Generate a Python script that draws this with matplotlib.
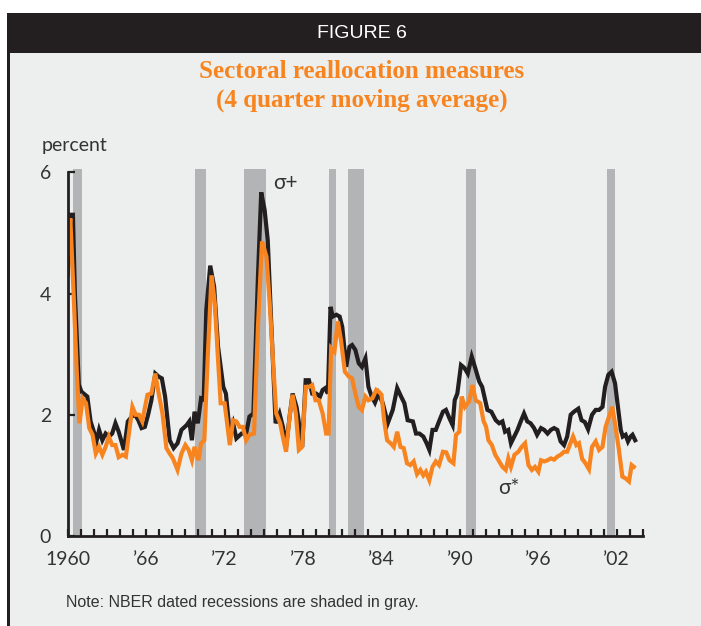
import matplotlib
matplotlib.use("Agg")
import matplotlib.pyplot as plt

# sigma+ (black) : year, percent
plus_years = [1960.0, 1960.2, 1960.4, 1960.55, 1960.85, 1961.05, 1961.5, 1961.75, 1962.0, 1962.2,
              1962.4, 1962.65, 1962.9, 1963.15, 1963.4, 1963.65, 1963.9, 1964.3, 1964.6, 1964.9,
              1965.15, 1965.4, 1965.65, 1965.9, 1966.15, 1966.4, 1966.7, 1966.95, 1967.2, 1967.45,
              1967.8, 1968.1, 1968.4, 1968.7, 1969.1, 1969.3, 1969.5, 1969.7, 1969.95, 1970.2,
              1970.4, 1970.6, 1970.9, 1971.2, 1971.5, 1971.9, 1972.1, 1972.4, 1972.65, 1972.9,
              1973.3, 1973.65, 1973.9, 1974.2, 1974.55, 1974.8, 1975.06, 1975.3, 1975.55, 1975.9,
              1976.2, 1976.46, 1976.7, 1977.0, 1977.2, 1977.5, 1977.73, 1977.93, 1978.2, 1978.45,
              1978.7, 1979.0, 1979.3, 1979.5, 1979.7, 1979.9, 1980.1, 1980.27, 1980.55, 1980.8,
              1981.0, 1981.3, 1981.55, 1981.75, 1982.0, 1982.26, 1982.5, 1982.77, 1983.0, 1983.25,
              1983.5, 1983.76, 1984.1, 1984.48, 1984.86, 1985.2, 1985.5, 1985.75, 1986.0, 1986.4,
              1986.64, 1986.9, 1987.2, 1987.45, 1987.66, 1987.9, 1988.15, 1988.4, 1988.7, 1988.93,
              1989.2, 1989.44, 1989.6, 1989.8, 1990.08, 1990.35, 1990.6, 1990.9, 1991.17, 1991.47,
              1991.7, 1992.1, 1992.4, 1992.74, 1993.0, 1993.25, 1993.45, 1993.7, 1993.9, 1994.15,
              1994.4, 1994.65, 1994.9, 1995.15, 1995.4, 1995.67, 1995.9, 1996.2, 1996.45, 1996.7,
              1996.95, 1997.2, 1997.45, 1997.7, 1997.96, 1998.2, 1998.47, 1998.72, 1999.05, 1999.3,
              1999.55, 1999.8, 2000.1, 2000.38, 2000.64, 2000.9, 2001.1, 2001.35, 2001.6, 2001.86,
              2002.05, 2002.3, 2002.45, 2002.67, 2002.85, 2003.05, 2003.2, 2003.4]
plus_vals = [4.3, 5.3, 5.3, 4.0, 2.5, 2.38, 2.3, 1.89, 1.72, 1.56,
             1.75, 1.58, 1.69, 1.64, 1.69, 1.86, 1.72, 1.42, 1.89, 1.97,
             2.0, 1.91, 1.78, 1.8, 2.0, 2.24, 2.68, 2.63, 2.6, 2.3,
             1.58, 1.45, 1.53, 1.75, 1.83, 1.89, 1.58, 2.05, 1.86, 2.27,
             2.25, 3.73, 4.46, 4.11, 3.12, 2.46, 2.35, 1.69, 1.86, 1.61,
             1.69, 1.69, 1.97, 2.02, 4.28, 5.67, 5.38, 4.88, 3.6, 1.86,
             2.02, 1.8, 1.47, 2.02, 2.35, 2.13, 1.8, 1.47, 2.57, 2.57,
             2.35, 2.35, 2.3, 2.41, 2.44, 2.35, 3.78, 3.62, 3.65, 3.62,
             3.45, 2.79, 3.12, 3.15, 3.07, 2.85, 2.79, 2.93, 2.46, 2.3,
             2.2, 2.35, 2.19, 1.86, 2.08, 2.44, 2.3, 2.19, 1.91, 1.89,
             1.69, 1.69, 1.64, 1.53, 1.42, 1.75, 1.75, 1.89, 2.05, 2.08,
             1.94, 1.83, 2.24, 2.35, 2.82, 2.77, 2.68, 2.96, 2.77, 2.55,
             2.46, 2.08, 2.05, 1.91, 1.86, 1.89, 1.72, 1.75, 1.53, 1.64,
             1.75, 1.89, 2.02, 1.89, 1.86, 1.78, 1.67, 1.78, 1.75, 1.69,
             1.75, 1.78, 1.75, 1.56, 1.5, 1.64, 2.0, 2.05, 2.1, 1.91,
             1.88, 1.76, 2.0, 2.08, 2.08, 2.13, 2.46, 2.66, 2.71, 2.52,
             2.19, 1.75, 1.64, 1.67, 1.56, 1.64, 1.67, 1.58]

# sigma* (orange)
star_years = [1960.0, 1960.2, 1960.45, 1960.7, 1960.9, 1961.15, 1961.4, 1961.65, 1961.9, 1962.15,
              1962.4, 1962.65, 1962.9, 1963.15, 1963.4, 1963.65, 1963.9, 1964.2, 1964.45, 1964.7,
              1964.95, 1965.2, 1965.45, 1965.7, 1966.1, 1966.4, 1966.7, 1966.95, 1967.25, 1967.55,
              1967.8, 1968.05, 1968.4, 1968.7, 1969.0, 1969.25, 1969.5, 1969.7, 1970.0, 1970.2,
              1970.45, 1970.7, 1971.0, 1971.25, 1971.5, 1971.7, 1972.0, 1972.4, 1972.65, 1972.9,
              1973.15, 1973.4, 1973.65, 1973.9, 1974.25, 1974.55, 1974.86, 1975.2, 1975.45, 1975.7,
              1975.95, 1976.25, 1976.45, 1976.7, 1977.0, 1977.2, 1977.45, 1977.68, 1977.93, 1978.2,
              1978.45, 1978.7, 1978.95, 1979.2, 1979.5, 1979.77, 1979.95, 1980.15, 1980.4, 1980.66,
              1980.9, 1981.2, 1981.5, 1981.75, 1982.0, 1982.26, 1982.5, 1982.77, 1983.0, 1983.3,
              1983.6, 1983.8, 1984.0, 1984.2, 1984.43, 1984.7, 1984.94, 1985.2, 1985.45, 1985.7,
              1985.95, 1986.2, 1986.46, 1986.72, 1986.97, 1987.2, 1987.4, 1987.66, 1987.9, 1988.15,
              1988.4, 1988.7, 1988.95, 1989.2, 1989.5, 1989.7, 1989.95, 1990.13, 1990.38, 1990.7,
              1990.96, 1991.2, 1991.55, 1991.8, 1992.0, 1992.18, 1992.44, 1992.7, 1992.95, 1993.25,
              1993.5, 1993.7, 1993.9, 1994.17, 1994.47, 1994.72, 1994.98, 1995.24, 1995.5, 1995.74,
              1996.0, 1996.2, 1996.45, 1996.7, 1996.95, 1997.2, 1997.45, 1997.7, 1997.96, 1998.2,
              1998.4, 1998.65, 1998.9, 1999.1, 1999.35, 1999.6, 1999.87, 2000.1, 2000.38, 2000.64,
              2000.9, 2001.14, 2001.4, 2001.65, 2001.9, 2002.16, 2002.42, 2002.67, 2002.93, 2003.13,
              2003.3]
star_vals = [4.66, 5.24, 4.0, 2.68, 1.86, 2.27, 2.19, 1.78, 1.67, 1.36,
             1.47, 1.34, 1.47, 1.64, 1.5, 1.5, 1.3, 1.34, 1.31, 1.72,
             2.13, 2.0, 2.0, 1.89, 2.33, 2.35, 2.68, 2.36, 2.02, 1.45,
             1.36, 1.28, 1.09, 1.36, 1.5, 1.42, 1.25, 1.47, 1.25, 1.53,
             1.58, 2.9, 4.3, 3.84, 2.9, 2.19, 2.19, 1.5, 1.91, 1.89,
             1.8, 1.8, 1.58, 1.67, 1.69, 3.45, 4.86, 4.61, 3.84, 2.9,
             2.02, 1.86, 1.64, 1.39, 2.02, 2.33, 2.02, 1.42, 1.47, 2.46,
             2.46, 2.49, 2.24, 2.24, 2.02, 1.69, 1.69, 3.1, 3.04, 3.54,
             3.23, 2.71, 2.63, 2.6, 2.35, 2.13, 2.08, 2.3, 2.24, 2.27,
             2.41, 2.38, 2.33, 1.91, 1.58, 1.53, 1.47, 1.72, 1.47, 1.45,
             1.2, 1.17, 1.23, 1.02, 1.09, 1.0, 1.06, 0.92, 1.14, 1.23,
             1.17, 1.39, 1.38, 1.25, 1.2, 1.67, 1.72, 2.3, 2.13, 2.22,
             2.49, 2.24, 2.19, 1.9, 1.8, 1.58, 1.5, 1.34, 1.25, 1.14,
             1.09, 1.28, 1.14, 1.34, 1.39, 1.47, 1.53, 1.17, 1.09, 1.14,
             1.06, 1.25, 1.23, 1.25, 1.28, 1.26, 1.31, 1.34, 1.39, 1.39,
             1.5, 1.64, 1.5, 1.53, 1.27, 1.2, 1.1, 1.47, 1.56, 1.42,
             1.47, 1.8, 1.97, 2.13, 1.8, 1.42, 0.98, 0.95, 0.9, 1.17,
             1.14]

# NBER recessions (start, end)
recessions = [(1960.4, 1961.1), (1969.7, 1970.6), (1973.5, 1975.15), (1979.95, 1980.5),
              (1981.45, 1982.65), (1990.45, 1991.2), (2001.25, 2001.85)]

label_years = [1960, 1966, 1972, 1978, 1984, 1990, 1996, 2002]
label_text = ["1960", "\u201966", "\u201972", "\u201978", "\u201984", "\u201990", "\u201996", "\u201902"]

BG = "#edefee"
DARK = "#231f20"
ORANGE = "#f7841f"
GRAY = "#b3b4b6"
sans = ["Lato", "DejaVu Sans"]
narrow = ["Liberation Sans Narrow", "Liberation Sans", "DejaVu Sans"]

fig = plt.figure(figsize=(7.01, 6.26), dpi=100, facecolor="white")

# panel background, header bar and left rule
fig.patches.append(plt.Rectangle((9 / 701, 0), 1, 1 - 53 / 626, transform=fig.transFigure,
                                 facecolor=BG, edgecolor="none", zorder=-10))
fig.patches.append(plt.Rectangle((7 / 701, 1 - 53 / 626), 1, 40 / 626, transform=fig.transFigure,
                                 facecolor=DARK, edgecolor="none", zorder=-10))
fig.patches.append(plt.Rectangle((7 / 701, 0), 3 / 701, 1 - 53 / 626, transform=fig.transFigure,
                                 facecolor=DARK, edgecolor="none", zorder=-10))

fig.text(362 / 701, 1 - 33 / 626, "FIGURE 6", color="white", ha="center", va="center",
         fontsize=14, family=narrow)
fig.text(362 / 701, 1 - 72 / 626, "Sectoral reallocation measures", color=ORANGE,
         ha="center", va="center", fontsize=18, fontweight="bold", family="Liberation Serif")
fig.text(362 / 701, 1 - 100 / 626, "(4 quarter moving average)", color=ORANGE,
         ha="center", va="center", fontsize=18, fontweight="bold", family="Liberation Serif")
fig.text(42 / 701, 1 - 146 / 626, "percent", color="#333333", ha="left", va="center",
         fontsize=14, family=sans)
fig.text(66 / 701, 1 - 603 / 626, "Note: NBER dated recessions are shaded in gray.",
         color="#333333", ha="left", va="center", fontsize=11.5, family=narrow)

ax = fig.add_axes([67.7 / 701, 1 - 536 / 626, (643 - 67.7) / 701, (536 - 172.3) / 626])
ax.set_facecolor("none")

for a, b in recessions:
    ax.axvspan(a, b, ymin=0, ymax=1.01, color=GRAY, lw=0, zorder=1, clip_on=False)

ax.plot(plus_years, plus_vals, color=DARK, lw=3.0, zorder=3, solid_joinstyle="miter")
ax.plot(star_years, star_vals, color=ORANGE, lw=3.0, zorder=4, solid_joinstyle="miter")

ax.text(1975.7, 5.83, "\u03c3+", fontsize=15, family=sans, color="#333333", ha="left", va="center")
ax.text(1992.9, 0.8, "\u03c3*", fontsize=15, family=sans, color="#333333", ha="left", va="center")

ax.set_xlim(1960, 2004)
ax.set_ylim(0, 6)
ax.set_xticks(range(1960, 2005), minor=True)
ax.set_xticks(label_years)
ax.set_xticklabels(label_text)
ax.set_yticks([0, 2, 4, 6])
ax.set_yticklabels(["0", "2", "4", "6"])

for s in ["top", "right"]:
    ax.spines[s].set_visible(False)
for s in ["left", "bottom"]:
    ax.spines[s].set_linewidth(2.0)
    ax.spines[s].set_color(DARK)
    ax.spines[s].set_zorder(5)

ax.tick_params(axis="both", which="both", direction="in", color=DARK, width=1.6, length=5)
ax.tick_params(axis="x", which="major", pad=11, labelsize=14, labelcolor="#333333")
ax.tick_params(axis="y", which="major", pad=12, labelsize=14, labelcolor="#333333")
for lab in ax.get_xticklabels() + ax.get_yticklabels():
    lab.set_family(sans)

fig.savefig("out.png", dpi=100, facecolor=fig.get_facecolor())
